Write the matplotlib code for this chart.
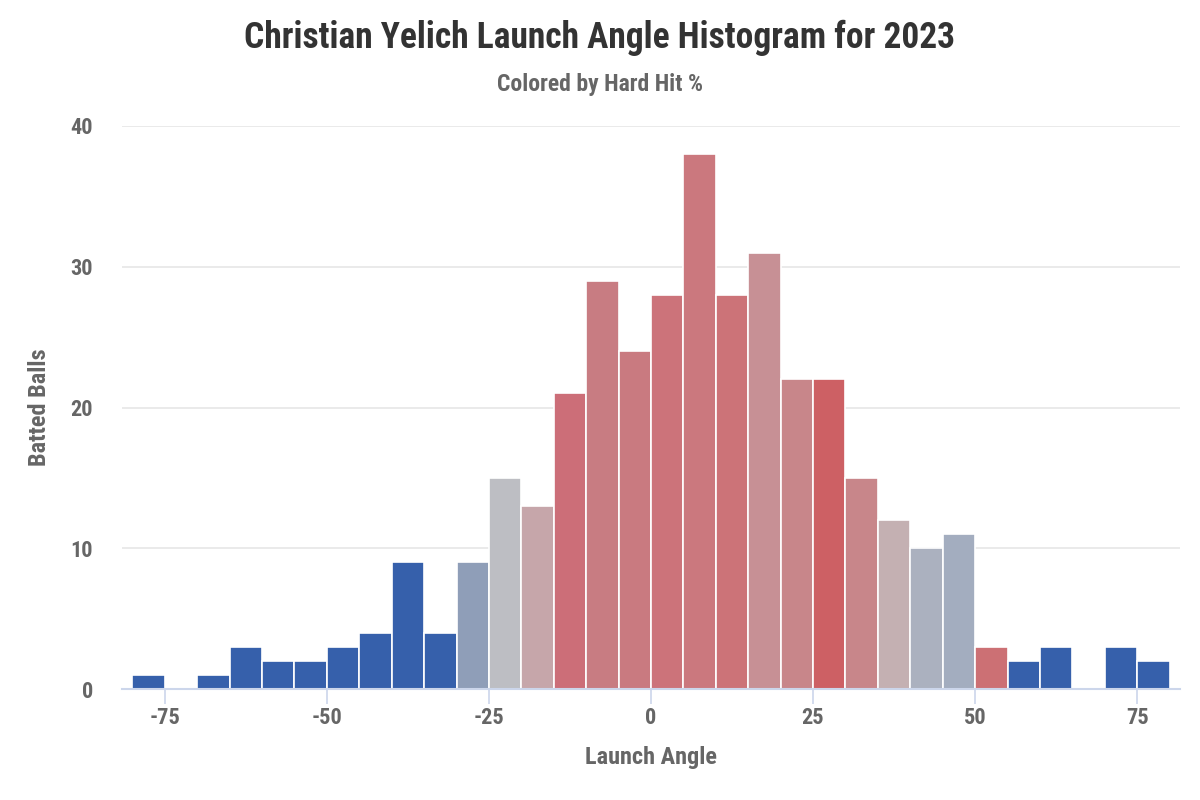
import matplotlib
matplotlib.use('Agg')
import matplotlib.pyplot as plt
import numpy as np

plt.rcParams['font.family'] = ['Roboto Condensed', 'DejaVu Sans']
plt.rcParams['axes.unicode_minus'] = False

# bin left edges (launch angle, deg), counts and hard-hit colours
bin_lefts = list(range(-80, 80, 5))
counts = [1, 0, 1, 3, 2, 2, 3, 4, 9, 4,
          9, 15, 13, 21, 29, 24, 28, 38, 28, 31,
          22, 22, 15, 12, 10, 11, 3, 2, 3, 0,
          3, 2]
bar_colors = ['#3660ab'] * 10 + [
    '#8f9eb8', '#bdbec3', '#c6a6aa', '#cc6e78', '#c87c82', '#c97a80',
    '#cc737a', '#cb787e', '#cc7378', '#c79095', '#c8868a', '#cd6064',
    '#c8868a', '#c4b0b2', '#abb1bf', '#a3adbf', '#cc7074'] + ['#3660ab'] * 5

xticks = [-75, -50, -25, 0, 25, 50, 75]
yticks = [0, 10, 20, 30, 40]

fig = plt.figure(figsize=(12, 8), dpi=100)
ax = fig.add_axes([0.1017, 0.13875, 0.8816, 0.70375])

ax.bar(bin_lefts, counts, width=5, align='edge', color=bar_colors,
       edgecolor='white', linewidth=1.2, zorder=3)

ax.set_xlim(-81.6, 81.6)
ax.set_ylim(0, 40)
ax.set_xticks(xticks)
ax.set_yticks(yticks)
ax.grid(axis='y', color='#e6e6e6', linewidth=1.2, zorder=0)

for s in ['top', 'right', 'left']:
    ax.spines[s].set_visible(False)
ax.spines['bottom'].set_color('#ccd6eb')
ax.spines['bottom'].set_linewidth(1.5)
ax.spines['bottom'].set_zorder(4)

ax.tick_params(axis='x', length=11, width=1.2, color='#ccd6eb', pad=2,
               labelsize=16, labelcolor='#666666')
ax.tick_params(axis='y', length=0, pad=21, labelsize=16, labelcolor='#666666')
for lbl in ax.get_xticklabels() + ax.get_yticklabels():
    lbl.set_fontweight('bold')

ax.set_xlabel('Launch Angle', fontsize=17.5, fontweight='bold', color='#666666', labelpad=12)
ax.set_ylabel('Batted Balls', fontsize=17.5, fontweight='bold', color='#666666', labelpad=14)

fig.text(0.5, 0.9525, 'Christian Yelich Launch Angle Histogram for 2023',
         ha='center', va='center', fontsize=25.6, fontweight='bold', color='#333333')
fig.text(0.5, 0.894, 'Colored by Hard Hit %', ha='center', va='center',
         fontsize=17, fontweight='bold', color='#666666')

fig.savefig('out.png', dpi=100, facecolor='white')
